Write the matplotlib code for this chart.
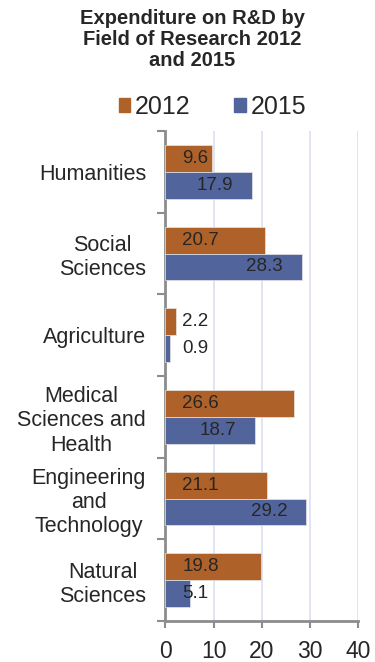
import matplotlib
matplotlib.use("Agg")
import matplotlib.pyplot as plt
from matplotlib.patches import Patch
import numpy as np

plt.rcParams['font.family'] = ['Liberation Sans', 'DejaVu Sans']

# Data (top to bottom)
categories = ["Humanities", "Social\nSciences", "Agriculture",
              "Medical\nSciences and\nHealth", "Engineering\nand\nTechnology",
              "Natural\nSciences"]
values_2012 = [9.6, 20.7, 2.2, 26.6, 21.1, 19.8]
values_2015 = [17.9, 28.3, 0.9, 18.7, 29.2, 5.1]
series_names = ["2012", "2015"]
x_ticks = [0, 10, 20, 30, 40]

c2012 = "#AE6128"
c2015 = "#52649C"
text_c = "#262626"

fig = plt.figure(figsize=(3.75, 6.62), dpi=100)
ax = fig.add_axes([0.4413, 0.0619, 0.5134, 0.7402])

y = np.arange(len(categories))
h = 0.33
ax.barh(y - h / 2, values_2012, height=h, color=c2012, edgecolor="#e6e6e6", linewidth=0.5, zorder=3)
ax.barh(y + h / 2, values_2015, height=h, color=c2015, edgecolor="#e6e6e6", linewidth=0.5, zorder=3)

ax.set_xlim(0, 40)
ax.set_ylim(len(categories) - 0.5, -0.5)

# Value labels
for yi, v in zip(y, values_2012):
    ax.text(3.5, yi - h / 2, f"{v}", ha="left", va="center", fontsize=13.5, color=text_c, zorder=4)
for yi, v in zip(y, values_2015):
    if v > 12:
        ax.text(v - 7.7, yi + h / 2, f"{v}", ha="center", va="center", fontsize=13.5, color=text_c, zorder=4)
    else:
        ax.text(3.5, yi + h / 2, f"{v}", ha="left", va="center", fontsize=13.5, color=text_c, zorder=4)

# Axes styling
for s in ["top", "right"]:
    ax.spines[s].set_visible(False)
for s in ["left", "bottom"]:
    ax.spines[s].set_color("#8c8c8c")
    ax.spines[s].set_linewidth(2)

ax.set_xticks(x_ticks)
ax.set_xticklabels([str(t) for t in x_ticks], fontsize=16.5, color=text_c)
ax.tick_params(axis="x", length=5, width=1.5, color="#8c8c8c", pad=9)
ax.xaxis.grid(True, color="#dcdff0", linewidth=1.2, zorder=0)
ax.set_axisbelow(True)

# Category boundaries as major ticks, labels on minor ticks at centres
ax.set_yticks(np.arange(-0.5, len(categories), 1.0))
ax.set_yticklabels([])
ax.tick_params(axis="y", which="major", length=6, width=1.5, color="#8c8c8c")
ax.set_yticks(y, minor=True)
ax.set_yticklabels(categories, minor=True, fontsize=15.5, color=text_c, multialignment="center")
ax.tick_params(axis="y", which="minor", length=0, pad=14)

# Title
fig.text(0.512, 1 - 9 / 662, "Expenditure on R&D by\nField of Research 2012\nand 2015",
         ha="center", va="top", fontsize=14.5, fontweight="bold", color=text_c, linespacing=1.13)

# Legend
handles = [Patch(color=c2012), Patch(color=c2015)]
fig.legend(handles, series_names, loc="center", bbox_to_anchor=(0.567, 1 - 107 / 662),
           ncol=2, frameon=False, fontsize=18, handlelength=0.45, handleheight=0.45,
           handletextpad=0.2, columnspacing=1.75, labelcolor=text_c)

fig.savefig("out.png", dpi=100)
